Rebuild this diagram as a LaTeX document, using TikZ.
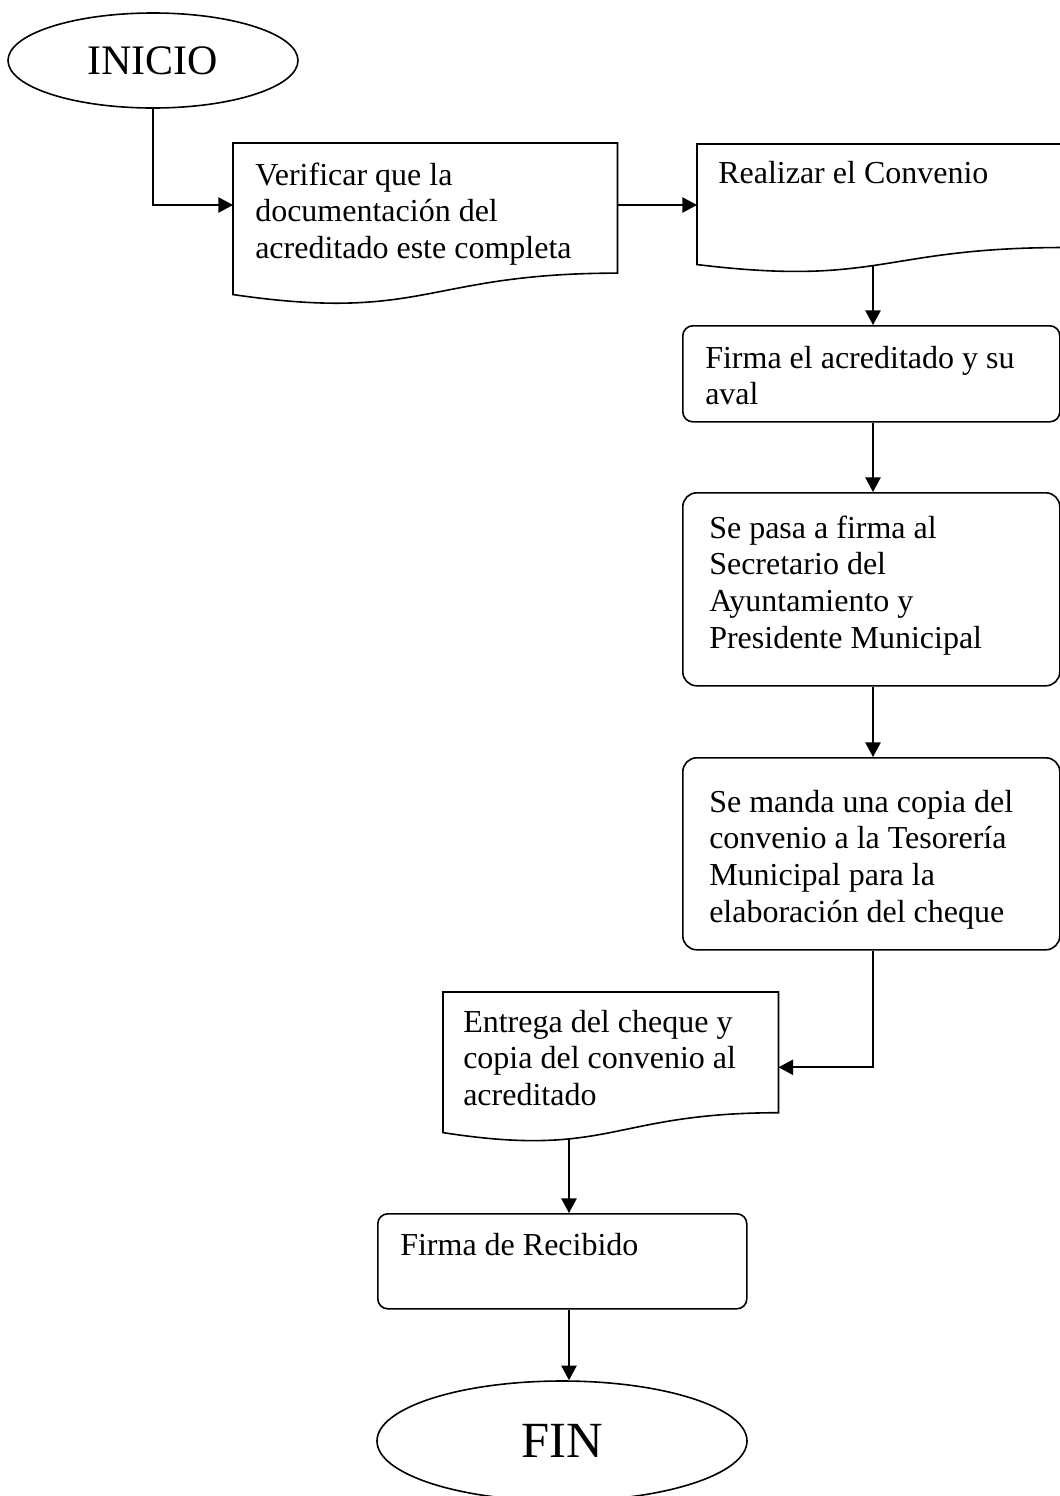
\documentclass[tikz,border=0pt]{standalone}
\usepackage{fontspec}
\setmainfont{Liberation Serif}
\usetikzlibrary{arrows.meta,calc,shapes.geometric}
\pgfdeclarelayer{wires}
\pgfsetlayers{wires,main}

% multi-line box text, first baseline on the node's base anchor
\newcommand\boxlines[1]{\parbox[t]{12cm}{#1}}
% flowchart "document" outline over a rectangular frame node
\newcommand\drawdocument[1]{%
  \draw[outline] (#1.north west) -- (#1.north east)
    -- ($(#1.north east)!0.802!(#1.south east)$)
    .. controls ($(#1.north)!0.802!(#1.south)$) and ($(#1.north)!1.1075!(#1.south)$)
    .. ($(#1.north west)!0.934!(#1.south west)$) -- cycle;}

\tikzset{
  outline/.style={draw=black, line width=1.2pt, fill=white},
  term/.style={ellipse, outline, inner sep=0pt},
  roundbox/.style={rectangle, outline, inner sep=0pt, anchor=north west},
  docframe/.style={rectangle, inner sep=0pt, anchor=north west},
  boxtext/.style={inner sep=0pt, anchor=base west, font=\fontsize{24}{27.6}\selectfont},
  link/.style={line width=1.2pt, -{Triangle[length=11pt,width=11.5pt]}},
}

\begin{document}
\begin{tikzpicture}[x=0.75pt, y=-0.75pt]
\useasboundingbox (0,0) rectangle (1060,1496);

% terminals and process frames
\node[term, minimum width=217.5pt, minimum height=71.25pt, font=\fontsize{31.5}{36}\selectfont] (inicio) at (153,60.5) {INICIO};
\node[docframe, minimum width=288pt, minimum height=121.3pt] (verif) at (233,143) {};
\node[docframe, minimum width=275.25pt, minimum height=96.4pt] (realizar) at (697,144) {};
\node[roundbox, rounded corners=7.5pt, minimum width=282.75pt, minimum height=72pt] (firma) at (682,325) {};
\node[roundbox, rounded corners=10.5pt, minimum width=282.75pt, minimum height=144.75pt] (pasa) at (682,492) {};
\node[roundbox, rounded corners=10.5pt, minimum width=282.75pt, minimum height=144pt] (manda) at (682,757) {};
\node[docframe, minimum width=251.25pt, minimum height=112.5pt] (entrega) at (443,992) {};
\node[roundbox, rounded corners=7.5pt, minimum width=276.75pt, minimum height=71.25pt] (recibido) at (377,1213) {};
\node[term, minimum width=277.5pt, minimum height=90pt, font=\fontsize{38}{44}\selectfont] (fin) at (562,1441) {FIN};

\drawdocument{verif}
\drawdocument{realizar}
\drawdocument{entrega}

% texts
\node[boxtext] (t-verif) at (255,185) {\boxlines{Verificar que la\\documentación del\\acreditado este completa}};
\node[boxtext] (t-realizar) at (718,183) {\boxlines{Realizar el Convenio}};
\node[boxtext] (t-firma) at (705,368) {\boxlines{Firma el acreditado y su\\aval}};
\node[boxtext] (t-pasa) at (709,538) {\boxlines{Se pasa a firma al\\Secretario del\\Ayuntamiento y\\Presidente Municipal}};
\node[boxtext] (t-manda) at (709,812) {\boxlines{Se manda una copia del\\convenio a la Tesorería\\Municipal para la\\elaboración del cheque}};
\node[boxtext] (t-entrega) at (463,1032) {\boxlines{Entrega del cheque y\\copia del convenio al\\acreditado}};
\node[boxtext] (t-recibido) at (400,1255) {\boxlines{Firma de Recibido}};

% connectors
\coordinate (row) at (0,205);
\coordinate (colA) at (873,0);
\coordinate (colB) at (569,0);
\begin{pgfonlayer}{wires}
\draw[link] (inicio.south) |- (verif.west |- row);
\draw[link] (verif.east |- row) -- (realizar.west |- row);
\draw[link] (colA |- realizar.center) -- (colA |- firma.north);
\draw[link] (colA |- firma.south) -- (colA |- pasa.north);
\draw[link] (colA |- pasa.south) -- (colA |- manda.north);
\draw[link] (colA |- manda.south) |- (entrega.east);
\draw[link] (colB |- entrega.center) -- (colB |- recibido.north);
\draw[link] (colB |- recibido.south) -- (colB |- fin.north);
\end{pgfonlayer}
\end{tikzpicture}
\end{document}
